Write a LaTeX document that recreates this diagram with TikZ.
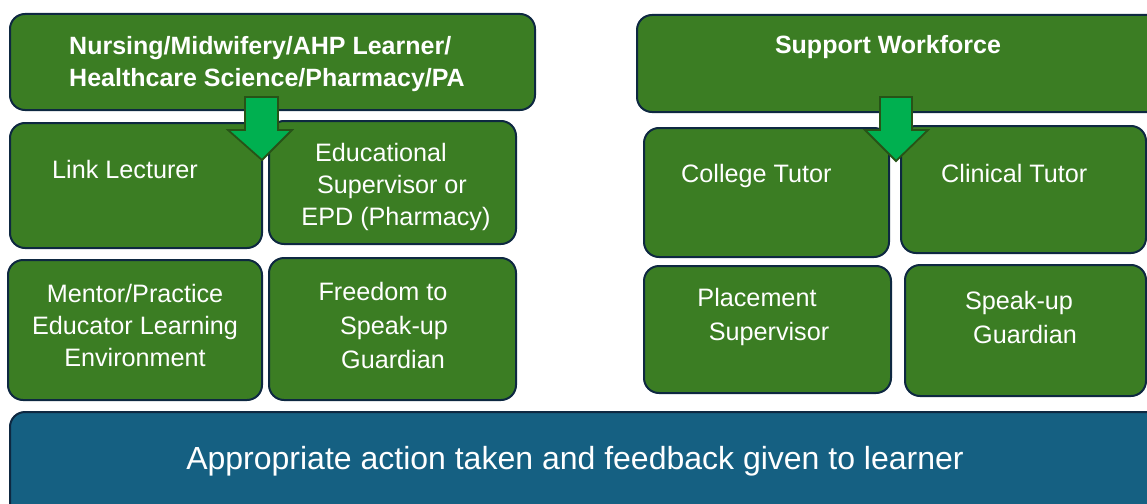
\documentclass[tikz,border=0pt]{standalone}
\usepackage{fontspec}
\setmainfont{Liberation Sans}
\definecolor{boxgreen}{HTML}{3B7D23}
\definecolor{boxline}{HTML}{0E2841}
\definecolor{boxblue}{HTML}{156082}
\definecolor{arrowfill}{HTML}{00B050}
\definecolor{arrowline}{HTML}{275317}
\tikzset{
  gbox/.style={draw=boxline, fill=boxgreen, line width=2pt, rounded corners=15pt},
  bbox/.style={draw=boxline, fill=boxblue, line width=2pt, rounded corners=15pt},
  wtxt/.style={text=white, inner sep=0pt, font=\fontsize{25.2}{32}\selectfont},
  wtxtb/.style={text=white, inner sep=0pt, font=\fontsize{25.2}{34}\selectfont},
  btxt/.style={text=white, inner sep=0pt, font=\bfseries\fontsize{25}{32}\selectfont},
  downarrow/.style={draw=arrowline, fill=arrowfill, line width=1.8pt, line join=miter}
}
\begin{document}
\begin{tikzpicture}[x=1pt,y=-1pt]
\useasboundingbox (0,0) rectangle (1147,503);
\clip (0,0) rectangle (1147,503);
% left column boxes
\draw[gbox] (10,14) rectangle (535,110);
\draw[gbox] (10,123) rectangle (262,248);
\draw[gbox] (269,121) rectangle (516,244);
\draw[gbox] (8,260) rectangle (262,400);
\draw[gbox] (269,258) rectangle (516,400);
% right column boxes
\draw[gbox] (637,15) rectangle (1180,112);
\draw[gbox] (644,128) rectangle (889,257);
\draw[gbox] (901,126) rectangle (1146,253);
\draw[gbox] (644,266) rectangle (891,393);
\draw[gbox] (905,265) rectangle (1146,396);
% bottom box
\draw[bbox] (10,412) rectangle (1180,530);
% arrows
\draw[downarrow] (245,97) -- (278,97) -- (278,130) -- (292,130) -- (262,160) -- (228,130) -- (245,130) -- cycle;
\draw[downarrow] (880,97) -- (912,97) -- (912,130) -- (928,130) -- (896,161) -- (865,130) -- (880,130) -- cycle;
% texts
\node[btxt, anchor=west, align=left] (t1) at (69,64) {Nursing/Midwifery/AHP Learner/\\Healthcare Science/Pharmacy/PA};
\node[btxt] (t2) at (888,47) {Support Workforce};
\node[wtxt, anchor=west] (t3) at (52,169) {Link Lecturer};
\node[wtxt, align=center] (t4) at (392,187) {Educational\hspace*{22pt}\\Supervisor or\\\hspace*{8pt}EPD (Pharmacy)};
\node[wtxt, align=center] (t5) at (135,325) {Mentor/Practice\\Educator Learning\\Environment};
\node[wtxtb, align=center] (t6) at (390,325) {Freedom to\hspace*{14pt}\\\hspace*{8pt}Speak-up\\\hspace*{6pt}Guardian};
\node[wtxt, anchor=west] (t7) at (681,176) {College Tutor};
\node[wtxt, anchor=west] (t8) at (941,173) {Clinical Tutor};
\node[wtxtb, align=center] (t9) at (764,317) {Placement\hspace*{14pt}\\\hspace*{10pt}Supervisor};
\node[wtxtb, align=center] (t10) at (1022,317) {Speak-up\hspace*{6pt}\\\hspace*{6pt}Guardian};
\node[wtxt, font=\fontsize{32}{36}\selectfont] (t11) at (575,461) {Appropriate action taken and feedback given to learner};
\end{tikzpicture}
\end{document}
